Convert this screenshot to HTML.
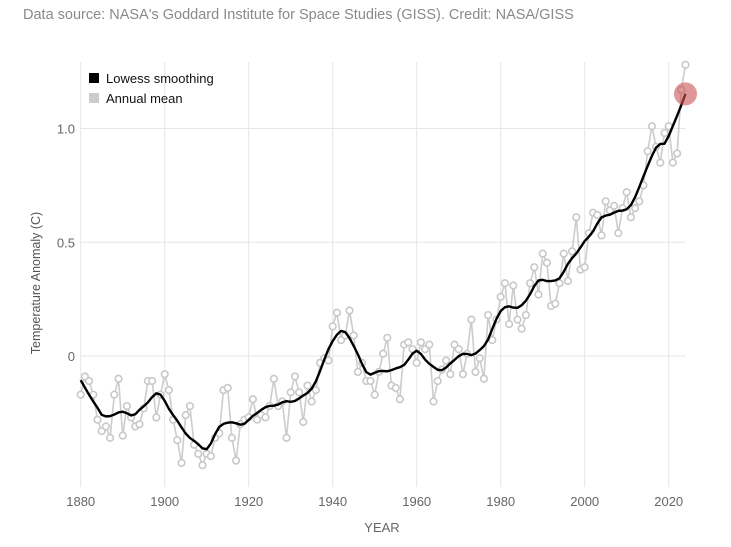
<!DOCTYPE html>
<html><head><meta charset="utf-8">
<style>
html,body{margin:0;padding:0;background:#fff;}
body{width:731px;height:542px;overflow:hidden;font-family:"Liberation Sans",sans-serif;}
svg text{font-family:"Liberation Sans",sans-serif;}
</style></head>
<body>
<svg id="chart" width="731" height="542">
<text x="23" y="19" font-size="14.5" fill="#8a8a8a">Data source: NASA's Goddard Institute for Space Studies (GISS). Credit: NASA/GISS</text>
<g id="grid"></g>
<g id="axes"></g>
<g id="series"></g>
<text transform="translate(40,283) rotate(-90)" text-anchor="middle" font-size="12.5" fill="#555">Temperature Anomaly (C)</text>
<text x="382" y="532" text-anchor="middle" font-size="13" fill="#666">YEAR</text>
<g>
<g>
<rect x="89" y="73" width="10" height="10" fill="#000"/>
<text x="106" y="83" font-size="13" fill="#111">Lowess smoothing</text>
</g>
<g>
<rect x="89" y="93" width="10" height="10" fill="#ccc"/>
<text x="106" y="103" font-size="13" fill="#111">Annual mean</text>
</g>
</g>
</svg>
<script>
const startYear = 1880;
const annualMean = [
-0.17,-0.09,-0.11,-0.17,-0.28,-0.33,-0.31,-0.36,-0.17,-0.10,
-0.35,-0.22,-0.27,-0.31,-0.30,-0.23,-0.11,-0.11,-0.27,-0.17,
-0.08,-0.15,-0.28,-0.37,-0.47,-0.26,-0.22,-0.39,-0.43,-0.48,
-0.43,-0.44,-0.36,-0.34,-0.15,-0.14,-0.36,-0.46,-0.30,-0.28,
-0.27,-0.19,-0.28,-0.26,-0.27,-0.22,-0.10,-0.22,-0.20,-0.36,
-0.16,-0.09,-0.16,-0.29,-0.13,-0.20,-0.15,-0.03,-0.01,-0.02,
0.13,0.19,0.07,0.09,0.20,0.09,-0.07,-0.03,-0.11,-0.11,
-0.17,-0.07,0.01,0.08,-0.13,-0.14,-0.19,0.05,0.06,0.03,
-0.03,0.06,0.03,0.05,-0.20,-0.11,-0.06,-0.02,-0.08,0.05,
0.03,-0.08,0.01,0.16,-0.07,-0.01,-0.10,0.18,0.07,0.16,
0.26,0.32,0.14,0.31,0.16,0.12,0.18,0.32,0.39,0.27,
0.45,0.41,0.22,0.23,0.32,0.45,0.33,0.46,0.61,0.38,
0.39,0.54,0.63,0.62,0.53,0.68,0.64,0.66,0.54,0.65,
0.72,0.61,0.65,0.68,0.75,0.90,1.01,0.92,0.85,0.98,
1.01,0.85,0.89,1.17,1.28];
const xTicks = [1880,1900,1920,1940,1960,1980,2000,2020];
const yTicks = [0,0.5,1.0];
const yTickLabels = ["0","0.5","1.0"];

const NS="http://www.w3.org/2000/svg";
const X0=80.7, PX_PER_YEAR=4.2, Y0=356, PX_PER_UNIT=227.5;
function xScale(yr){return X0+(yr-1880)*PX_PER_YEAR;}
function yScale(v){return Y0-v*PX_PER_UNIT;}
function mk(tag,attrs,parent){const e=document.createElementNS(NS,tag);for(const k in attrs)e.setAttribute(k,attrs[k]);parent.appendChild(e);return e;}

const grid=document.getElementById('grid'),axes=document.getElementById('axes'),series=document.getElementById('series');
const years=annualMean.map((_,i)=>startYear+i);
const xRight=xScale(years[years.length-1]);

xTicks.forEach(t=>{
  const l=mk('line',{x1:xScale(t),x2:xScale(t),y1:62,y2:487,stroke:'#e6e6e6','stroke-width':1},grid);
  
  
  const tx=mk('text',{x:xScale(t),y:506,'text-anchor':'middle','font-size':13,fill:'#666'},axes);
  tx.textContent=t;
  
  
});
yTicks.forEach((t,i)=>{
  const l=mk('line',{x1:80.7,x2:xRight,y1:yScale(t),y2:yScale(t),stroke:'#e6e6e6','stroke-width':1},grid);
  
  
  const tx=mk('text',{x:75,y:yScale(t)+5,'text-anchor':'end','font-size':13,fill:'#666'},axes);
  tx.textContent=yTickLabels[i];
  
  
});

function lowess(xs,ys,k){
  const n=xs.length,out=[];
  for(let i=0;i<n;i++){
    const d=xs.map(x=>Math.abs(x-xs[i]));
    const h=[...d].sort((a,b)=>a-b)[Math.min(k,n-1)]||1;
    let sw=0,sx=0,sy=0,sxx=0,sxy=0;
    for(let j=0;j<n;j++){const u=d[j]/h;if(u>=1)continue;const w=Math.pow(1-u*u*u,3);
      sw+=w;sx+=w*xs[j];sy+=w*ys[j];sxx+=w*xs[j]*xs[j];sxy+=w*xs[j]*ys[j];}
    const mx=sx/sw,my=sy/sw,vx=sxx/sw-mx*mx;
    const b=vx>1e-9?(sxy/sw-mx*my)/vx:0;
    out.push(my+b*(xs[i]-mx));
  }
  return out;
}
const smooth=lowess(years,annualMean,10);

const annualLine=mk('polyline',{points:years.map((y,i)=>xScale(y)+','+yScale(annualMean[i])).join(' '),fill:'none',stroke:'#cccccc','stroke-width':1.6},series);


years.forEach((y,i)=>{
  const c=mk('circle',{cx:xScale(y),cy:yScale(annualMean[i]),r:3.3,fill:'#fff',stroke:'#c8c8c8','stroke-width':1.6},series);
  
  
});
const sl=mk('polyline',{points:years.map((y,i)=>xScale(y)+','+yScale(smooth[i])).join(' '),fill:'none',stroke:'#000','stroke-width':2.4,'stroke-linejoin':'round'},series);


const last=years.length-1;
const hl=mk('circle',{cx:xScale(years[last]),cy:yScale(smooth[last]),r:11.5,fill:'rgba(204,82,82,0.6)'},series);


</script>
</body></html>
